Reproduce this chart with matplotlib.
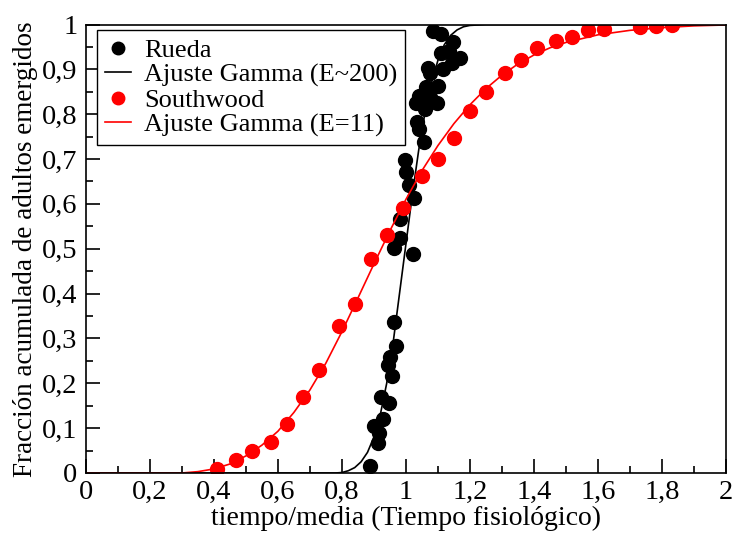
import numpy as np
import matplotlib
matplotlib.use("Agg")
import matplotlib.pyplot as plt
from matplotlib.ticker import MultipleLocator, FuncFormatter

plt.rcParams['font.family'] = ['Liberation Serif', 'DejaVu Serif']

# Rueda (datos)
rueda_x = [1.084, 1.109, 1.147, 1.134, 1.109, 1.169, 1.144, 1.116, 1.069, 1.075,
           1.063, 1.100, 1.041, 1.075, 1.031, 1.097, 1.059, 1.034, 1.040, 1.056,
           0.997, 1.000, 1.009, 1.025, 0.980, 0.980, 0.962, 1.022, 0.962, 0.970,
           0.950, 0.944, 0.956, 0.922, 0.947, 0.928, 0.900, 0.916, 0.912, 0.888]
rueda_y = [0.986, 0.978, 0.960, 0.940, 0.937, 0.926, 0.915, 0.900, 0.904, 0.891,
           0.860, 0.862, 0.840, 0.838, 0.826, 0.826, 0.812, 0.783, 0.766, 0.737,
           0.698, 0.672, 0.643, 0.614, 0.567, 0.524, 0.502, 0.489, 0.337, 0.284,
           0.259, 0.241, 0.217, 0.170, 0.156, 0.121, 0.105, 0.089, 0.067, 0.016]

# Southwood (datos)
south_x = [0.41, 0.47, 0.52, 0.58, 0.63, 0.68, 0.73, 0.79, 0.84, 0.89,
           0.94, 0.99, 1.05, 1.10, 1.15, 1.20, 1.25, 1.31, 1.36, 1.41,
           1.47, 1.52, 1.57, 1.62, 1.73, 1.78, 1.83]
south_y = [0.008, 0.030, 0.050, 0.068, 0.110, 0.170, 0.230, 0.328, 0.376, 0.478,
           0.530, 0.590, 0.662, 0.700, 0.748, 0.808, 0.850, 0.893, 0.921, 0.948,
           0.963, 0.973, 0.988, 0.990, 0.994, 0.997, 0.999]

# ajuste gamma E~200
fit200_x = [0.0, 0.78, 0.80, 0.82, 0.84, 0.86, 0.88, 0.90, 0.92, 0.94, 0.96, 0.98,
            1.00, 1.02, 1.04, 1.06, 1.08, 1.10, 1.12, 1.14, 1.16, 1.18, 1.20, 1.25, 2.0]
fit200_y = [0.0, 0.0, 0.001, 0.005, 0.012, 0.025, 0.046, 0.080, 0.130, 0.200, 0.290, 0.400,
            0.510, 0.620, 0.720, 0.805, 0.870, 0.920, 0.955, 0.976, 0.988, 0.995, 0.998, 1.0, 1.0]

# ajuste gamma E=11
fit11_x = [0.0, 0.30, 0.35, 0.40, 0.45, 0.50, 0.55, 0.60, 0.65, 0.70, 0.75, 0.80,
           0.85, 0.90, 0.95, 1.00, 1.05, 1.10, 1.15, 1.20, 1.25, 1.30, 1.35, 1.40,
           1.45, 1.50, 1.60, 1.70, 1.80, 1.90, 2.0]
fit11_y = [0.0, 0.0, 0.003, 0.009, 0.020, 0.038, 0.062, 0.093, 0.135, 0.185, 0.245, 0.315,
           0.390, 0.466, 0.540, 0.610, 0.674, 0.730, 0.779, 0.821, 0.857, 0.887, 0.912, 0.932,
           0.948, 0.960, 0.977, 0.987, 0.993, 0.997, 0.999]

fig = plt.figure(figsize=(7.34, 5.33), dpi=100)
ax = fig.add_axes([0.117, 0.1126, 0.872, 0.8414])

ax.plot(rueda_x, rueda_y, 'o', color='black', ms=10, label='Rueda')
ax.plot(fit200_x, fit200_y, '-', color='black', lw=1.2, label='Ajuste Gamma (E~200)')
ax.plot(south_x, south_y, 'o', color='red', ms=10, label='Southwood')
ax.plot(fit11_x, fit11_y, '-', color='red', lw=1.2, label='Ajuste Gamma (E=11)')

ax.set_xlim(0, 2)
ax.set_ylim(0, 1)
ax.xaxis.set_major_locator(MultipleLocator(0.2))
ax.xaxis.set_minor_locator(MultipleLocator(0.1))
ax.yaxis.set_major_locator(MultipleLocator(0.1))
ax.yaxis.set_minor_locator(MultipleLocator(0.05))

fmt = FuncFormatter(lambda v, p: ('%g' % round(v, 2)).replace('.', ','))
ax.xaxis.set_major_formatter(fmt)
ax.yaxis.set_major_formatter(fmt)

ax.tick_params(which='both', direction='in', top=False, right=False, labelsize=20.5)
ax.tick_params(which='major', length=10, width=1.2)
ax.tick_params(which='minor', length=5, width=1.2)
ax.tick_params(axis='x', pad=5)
ax.tick_params(axis='y', pad=6)
for s in ax.spines.values():
    s.set_linewidth(1.2)

ax.set_xlabel('tiempo/media (Tiempo fisiológico)', fontsize=20, labelpad=1)
ax.set_ylabel('Fracción acumulada de adultos emergidos', fontsize=19.5, labelpad=3)

leg = ax.legend(loc='upper left', bbox_to_anchor=(0.017, 0.987), fontsize=19,
                frameon=True, fancybox=False, edgecolor='black', framealpha=1,
                borderpad=0.3, labelspacing=0.05, handlelength=1.0, handletextpad=0.5,
                borderaxespad=0, markerscale=0.9)
leg.get_frame().set_linewidth(1.0)

fig.savefig('out.png', dpi=100)
